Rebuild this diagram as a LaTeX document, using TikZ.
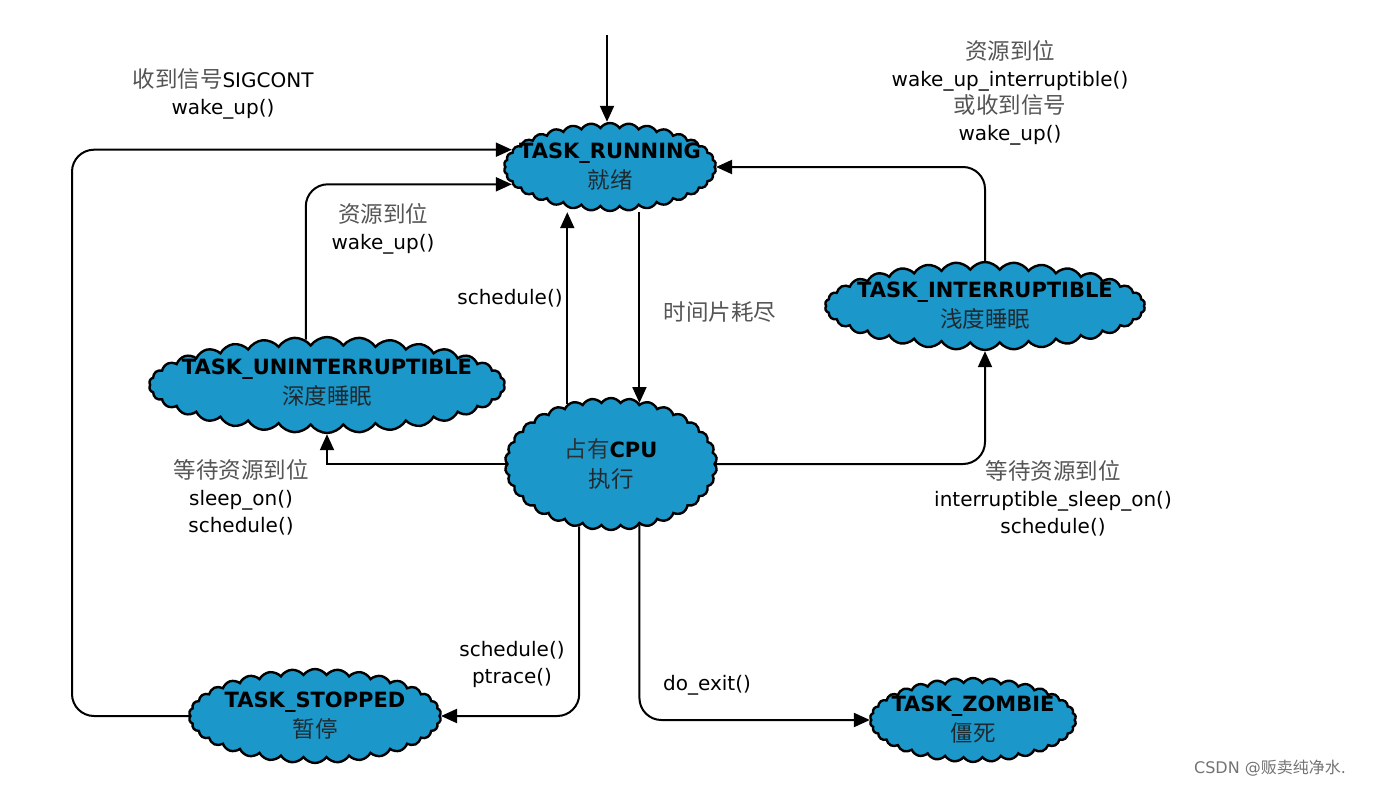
\documentclass[tikz,border=0pt]{standalone}
\usepackage{fontspec}
\setmainfont{DejaVu Sans}
\newfontfamily\cjk{Noto Sans CJK SC}
\usetikzlibrary{shapes.symbols,arrows.meta}
\definecolor{cloudblue}{HTML}{1B97C9}
\definecolor{zhgray}{HTML}{555555}
\definecolor{zhdark}{HTML}{1E2A30}
\newcommand\zh[1]{{\cjk\color{zhgray}#1}}
\newcommand\zn[1]{{\cjk\color{zhdark}\fontsize{22.5}{28}\selectfont\mdseries #1}}
\tikzset{
  state/.style={cloud, cloud puffs=34, cloud puff arc=110, cloud ignores aspect,
    draw=black, line width=2.4pt, fill=cloudblue, inner sep=0pt},
  stxt/.style={align=center, inner sep=0pt,
    font=\fontsize{21}{32}\selectfont\bfseries},
  lbl/.style={align=center, font=\fontsize{20}{27}\selectfont, inner sep=0pt},
  arr/.style={line width=2pt, -{Triangle[length=16pt,width=14pt]}},
  ln/.style={line width=2pt, rounded corners=22pt}
}
\begin{document}
\begin{tikzpicture}[x=1pt,y=-1pt]
\useasboundingbox (0,0) rectangle (1374,787);
% states
\node[state, minimum width=212, minimum height=88] (running) at (610,167) {};
\node[stxt] (runningt) at (running.center) {TASK\_RUNNING\\[-2pt]\zn{就绪}};
\node[state, minimum width=356, minimum height=96] (unint) at (327,385) {};
\node[stxt] (unintt) at ([yshift=2pt]unint.center) {TASK\_UNINTERRUPTIBLE\\[-2pt]\zn{深度睡眠}};
\node[state, minimum width=320, minimum height=88] (inter) at (985,306) {};
\node[stxt] (intert) at (inter.center) {TASK\_INTERRUPTIBLE\\[-2pt]\zn{浅度睡眠}};
\node[state, minimum width=212, minimum height=132] (cpu) at (611,464) {};
\node[stxt] (cput) at (cpu.center) {\zh{\fontsize{22.5}{28}\selectfont\mdseries\color{zhdark!80!zhgray}占有}CPU\\[-2pt]\zn{执行}};
\node[state, minimum width=252, minimum height=94] (stopped) at (315,716) {};
\node[stxt] (stoppedt) at (stopped.center) {TASK\_STOPPED\\[-2pt]\zn{暂停}};
\node[state, minimum width=206, minimum height=84] (zombie) at (973,720) {};
\node[stxt] (zombiet) at (zombie.center) {TASK\_ZOMBIE\\[-2pt]\zn{僵死}};
% helper coordinates
\coordinate (top) at (607,35);
\coordinate (L) at (72,0);
% connectors
\draw[arr] (top) -- (top |- running.north);
\draw[ln,arr] (stopped.west) -| (L |- running.170) -- (running.170);
\draw[ln,arr] (unint.115) |- (running.190);
\draw[arr] (cpu.126) -- (cpu.126 |- running.south);
\draw[arr] (cpu.65 |- running.south) -- (cpu.65);
\draw[ln,arr] (inter.north) |- (running.east);
\draw[arr] (cpu.west) -| (unint.south);
\draw[ln,arr] (cpu.east) -| (inter.south);
\draw[ln,arr] (cpu.243) |- (stopped.east);
\draw[ln,arr] (cpu.295) |- (zombie.west);
% labels
\node[lbl] (l1) at (223,94) {\zh{\fontsize{22.5}{27}\selectfont 收到信号}SIGCONT\\wake\_up()};
\node[lbl] (l2) at (1010,93) {\zh{\fontsize{22.5}{27}\selectfont 资源到位}\\wake\_up\_interruptible()\\\zh{\fontsize{22.5}{27}\selectfont 或收到信号}\\wake\_up()};
\node[lbl] (l3) at (383,229) {\zh{\fontsize{22.5}{27}\selectfont 资源到位}\\wake\_up()};
\node[lbl] (l4) at (510,298) {schedule()};
\node[lbl] (l5) at (720,312) {\zh{\fontsize{22.5}{27}\selectfont 时间片耗尽}};
\node[lbl] (l6) at (241,497) {\zh{\fontsize{22.5}{27}\selectfont 等待资源到位}\\sleep\_on()\\schedule()};
\node[lbl] (l7) at (1053,498) {\zh{\fontsize{22.5}{27}\selectfont 等待资源到位}\\interruptible\_sleep\_on()\\schedule()};
\node[lbl] (l8) at (512,664) {schedule()\\ptrace()};
\node[lbl] (l9) at (707,685) {do\_exit()};
\node[lbl, font=\fontsize{16}{18}\selectfont, text=black!55] (wm) at (1270,768) {CSDN @{\cjk 贩卖纯净水}.};
\end{tikzpicture}
\end{document}
